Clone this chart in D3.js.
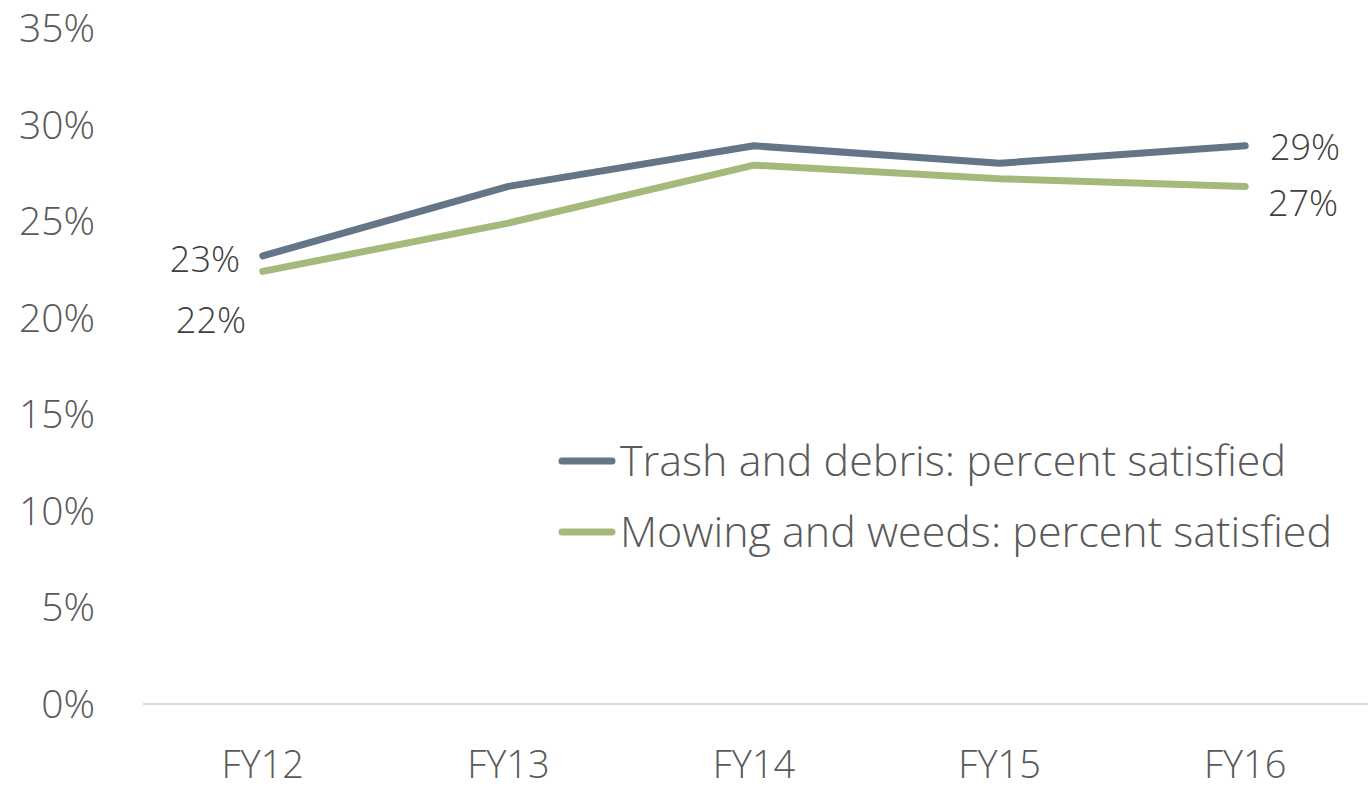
<!DOCTYPE html>
<html lang="en">
<head>
<meta charset="UTF-8">
<script src="https://cdnjs.cloudflare.com/ajax/libs/d3/7.8.4/d3.min.js"></script>
<title>Satisfaction</title>
<style>
  body { margin: 0; background: #fff; }
  text { font-family: "Open Sans", "Noto Sans", sans-serif; font-weight: 350; }
</style>
</head>
<body>
<script>
const years = ["FY12", "FY13", "FY14", "FY15", "FY16"]
const trash = [23.2, 26.8, 28.9, 28.0, 28.9]
const mowing = [22.4, 24.9, 27.9, 27.2, 26.8]
const yTicks = [0, 5, 10, 15, 20, 25, 30, 35]
const seriesNames = ["Trash and debris: percent satisfied", "Mowing and weeds: percent satisfied"]

const width = 1368, height = 788
const colors = ["#637587", "#a5b97c"]

let svg = d3.select("body").append("svg")
  .attr("width", width)
  .attr("height", height)

let x = d3.scalePoint()
  .domain(years)
  .range([140, 1368])
  .padding(0.5)

let y = d3.scaleLinear()
  .domain([0, 35])
  .range([704, 28])

// baseline
svg.append("line")
  .attr("x1", 143).attr("x2", 1368)
  .attr("y1", y(0)).attr("y2", y(0))
  .attr("stroke", "#d9d9d9")
  .attr("stroke-width", 2)

// y tick labels
svg.selectAll("text.ytick").data(yTicks).enter().append("text")
  .attr("class", "ytick")
  .attr("x", 95)
  .attr("y", d => y(d) + 14)
  .attr("text-anchor", "end")
  .attr("font-size", 39)
  .attr("fill", "#595959")
  .text(d => d + "%")

// x tick labels
svg.selectAll("text.xtick").data(years).enter().append("text")
  .attr("class", "xtick")
  .attr("x", d => x(d))
  .attr("y", 778)
  .attr("text-anchor", "middle")
  .attr("font-size", 38)
  .attr("fill", "#595959")
  .text(d => d)

let line = d3.line()
  .x((d, i) => x(years[i]))
  .y(d => y(d))

;[trash, mowing].forEach((s, i) => {
  svg.append("path")
    .datum(s)
    .attr("d", line)
    .attr("fill", "none")
    .attr("stroke", colors[i])
    .attr("stroke-width", 7)
    .attr("stroke-linecap", "round")
    .attr("stroke-linejoin", "round")
})

// data labels at ends
const labelColor = "#404040"
svg.append("text").attr("x", 240).attr("y", y(trash[0]) + 16)
  .attr("text-anchor", "end").attr("font-size", 36).attr("fill", labelColor)
  .text(Math.round(trash[0]) + "%")
svg.append("text").attr("x", 246).attr("y", y(mowing[0]) + 62)
  .attr("text-anchor", "end").attr("font-size", 36).attr("fill", labelColor)
  .text(Math.round(mowing[0]) + "%")
svg.append("text").attr("x", 1270).attr("y", y(trash[4]) + 14)
  .attr("font-size", 36).attr("fill", labelColor)
  .text(Math.round(trash[4]) + "%")
svg.append("text").attr("x", 1268).attr("y", y(mowing[4]) + 30)
  .attr("font-size", 36).attr("fill", labelColor)
  .text(Math.round(mowing[4]) + "%")

// legend
let legend = svg.selectAll("g.legend").data(seriesNames).enter().append("g")
  .attr("class", "legend")
  .attr("transform", (d, i) => `translate(560, ${461 + i * 71})`)

legend.append("line")
  .attr("x1", 2).attr("x2", 52)
  .attr("stroke", (d, i) => colors[i])
  .attr("stroke-width", 7)
  .attr("stroke-linecap", "round")

legend.append("text")
  .attr("x", 60)
  .attr("y", 15)
  .attr("font-size", 43)
  .attr("fill", "#595959")
  .text(d => d)
</script>
</body>
</html>
